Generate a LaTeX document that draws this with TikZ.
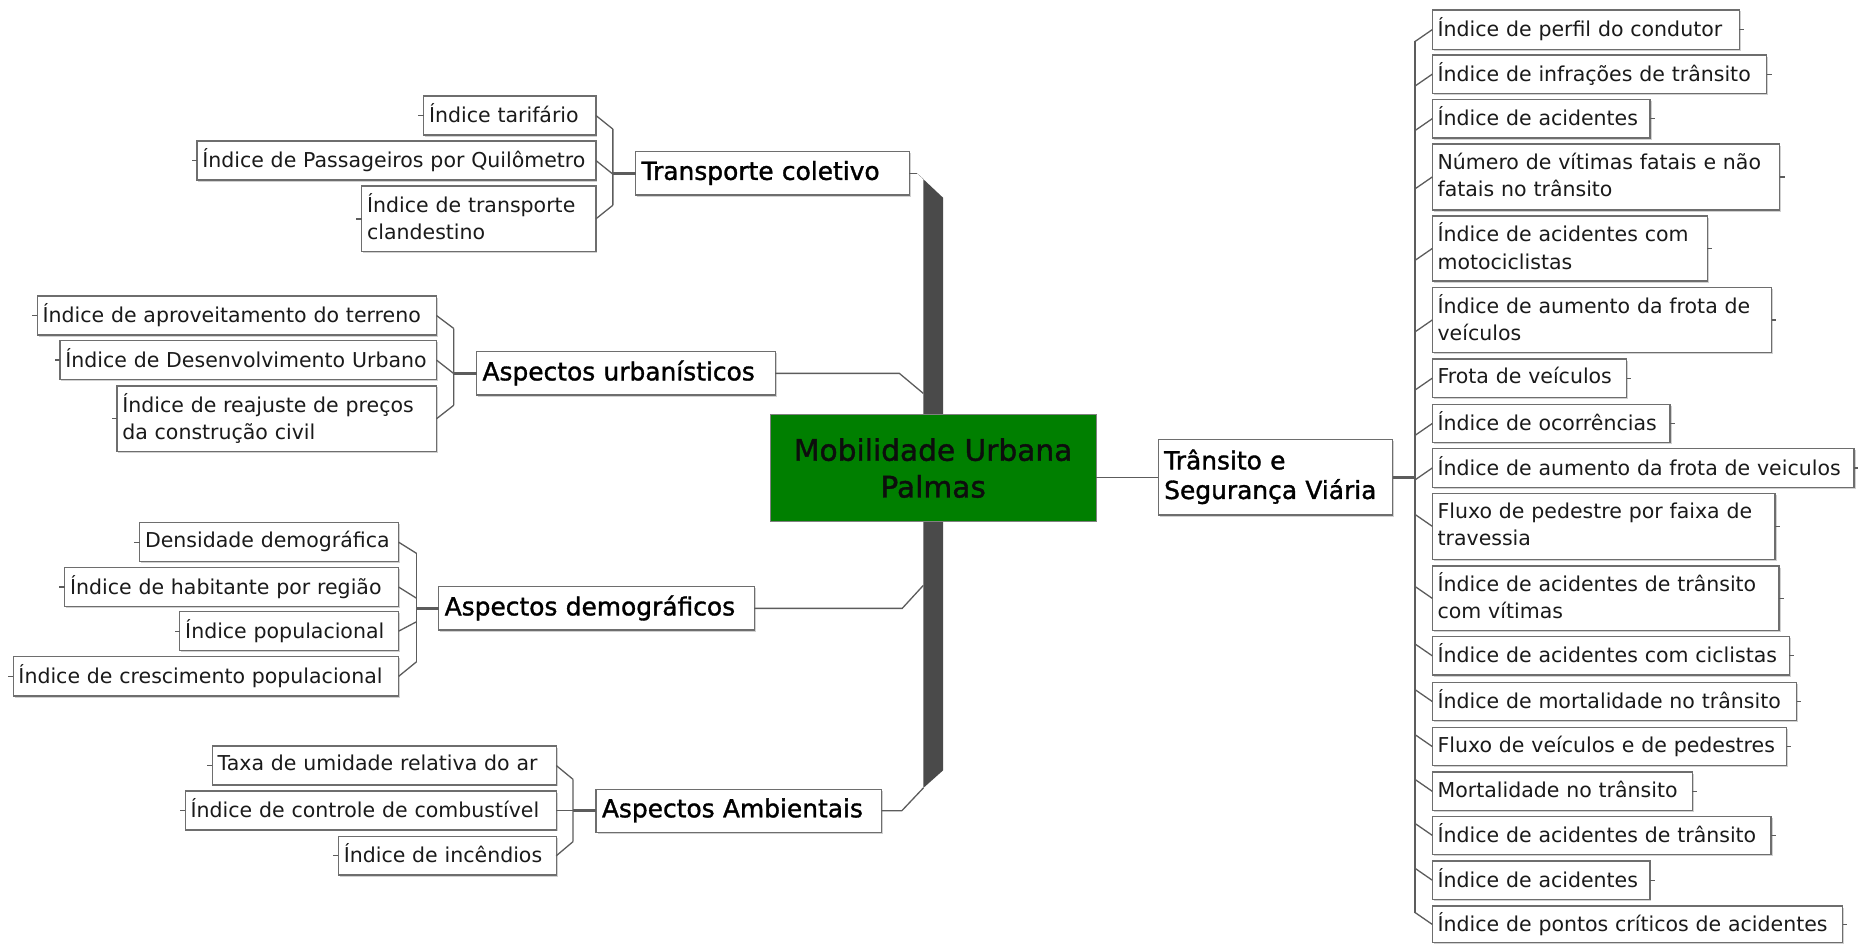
\documentclass[tikz,border=0pt]{standalone}
\usepackage{fontspec}
\setmainfont{DejaVu Sans}
\newfontfamily\parentfont{DejaVu Sans}[FakeBold=1.3]
\usetikzlibrary{shadows}
\definecolor{boxline}{HTML}{6E6E6E}
\definecolor{conncol}{HTML}{5C5C5C}
\definecolor{barcol}{HTML}{4A4A4A}
\definecolor{centergreen}{HTML}{007F00}
\definecolor{leaftext}{HTML}{1A1A1A}
\newcommand\lstrut{\rule[-4.2pt]{0pt}{16.2pt}}
\newcommand\pstrut{\rule[-5pt]{0pt}{19.5pt}}
\tikzset{
  box/.style={draw=boxline, line width=1pt, fill=white, outer sep=0pt, anchor=north west,
    align=left, inner ysep=0pt,
    drop shadow={shadow xshift=1.3pt, shadow yshift=-1.3pt, fill=black, opacity=0.18}},
  leaf/.style 2 args={box, inner xsep=4.5pt, text width=#1pt, minimum height=#2pt,
    font=\fontsize{17.3}{22.8}\selectfont, text=leaftext,
    execute at begin node=\lstrut, execute at end node=\lstrut},
  parent/.style 2 args={box, inner xsep=5pt, text width=#1pt, minimum height=#2pt,
    font=\parentfont\fontsize{21}{25}\selectfont, text=black,
    execute at begin node=\pstrut, execute at end node=\pstrut},
  mainbox/.style={draw=gray, line width=1pt, fill=centergreen, outer sep=0pt, anchor=north west,
    minimum width=275pt, minimum height=90pt, align=center,
    font=\parentfont\fontsize{25}{31}\selectfont, text=black!95},
  conn/.style={draw=conncol, line width=1.1pt},
  thickconn/.style={draw=conncol, line width=2.4pt},
}
\begin{document}
\begin{tikzpicture}[x=1pt,y=-1pt]
\useasboundingbox (0,0) rectangle (1568,796);

% ---- central spine (drawn first, behind the main box)
\coordinate (bartop) at (774,146.3);
\coordinate (bu) at (779.2,332);
\coordinate (bd) at (779.2,494);
\coordinate (bb) at (779.2,665);
\fill[barcol] (bartop) -- (796,167) -- (796,650) -- (bb) -- (779.2,151) -- cycle;

% ---- main node
\node[mainbox] (mob) at (650,350) {Mobilidade Urbana\\Palmas};

% ---- parents
\node[parent={221.1}{36.6}] (tc) at (536.4,128) {\mbox{Transporte coletivo}};
\node[parent={242}{36.6}] (ua) at (402.2,296.8) {\mbox{Aspectos urbanísticos}};
\node[parent={256.2}{36.6}] (da) at (370.3,495.1) {\mbox{Aspectos demográficos}};
\node[parent={231.1}{36.3}] (aa) at (503,666.1) {\mbox{Aspectos Ambientais}};
\node[parent={187.8}{63.8}] (tsv) at (977.5,370.8) {\mbox{Trânsito e}\\\mbox{Segurança Viária}};

% ---- group 1 leaves
\node[leaf={136.3}{32.9}] (t1) at (357.6,81) {\mbox{Índice tarifário}};
\node[leaf={327.7}{32.9}] (t2) at (166.2,119) {\mbox{Índice de Passageiros por Quilômetro}};
\node[leaf={188.6}{55.4}] (t3) at (305.3,157) {\mbox{Índice de transporte}\\\mbox{clandestino}};

% ---- group 2 leaves
\node[leaf={327.9}{32.9}] (u1) at (31.4,249.8) {\mbox{Índice de aproveitamento do terreno}};
\node[leaf={308.7}{32.6}] (u2) at (50.6,287.5) {\mbox{Índice de Desenvolvimento Urbano}};
\node[leaf={260.6}{55.5}] (u3) at (98.7,325.7) {\mbox{Índice de reajuste de preços}\\\mbox{da construção civil}};

% ---- group 3 leaves
\node[leaf={209.5}{32.9}] (d1) at (117.9,441.1) {\mbox{Densidade demográfica}};
\node[leaf={272.8}{33.2}] (d2) at (54.6,478.8) {\mbox{Índice de habitante por região}};
\node[leaf={175.6}{32.9}] (d3) at (151.8,516.2) {\mbox{Índice populacional}};
\node[leaf={316.3}{33.2}] (d4) at (11.1,554.2) {\mbox{Índice de crescimento populacional}};

% ---- group 4 leaves
\node[leaf={281.2}{32.8}] (a1) at (179.2,629.6) {\mbox{Taxa de umidade relativa do ar}};
\node[leaf={304}{32.9}] (a2) at (156.4,667.5) {\mbox{Índice de controle de combustível}};
\node[leaf={174.8}{32.3}] (a3) at (285.6,706.1) {\mbox{Índice de incêndios}};

% ---- right leaves
\node[leaf={250.1}{33.2}] (r1) at (1208.7,8.4) {\mbox{Índice de perfil do condutor}};
\node[leaf={273.3}{32.4}] (r2) at (1208.7,46.4) {\mbox{Índice de infrações de trânsito}};
\node[leaf={174.8}{32.7}] (r3) at (1208.7,83.8) {\mbox{Índice de acidentes}};
\node[leaf={284.3}{55.7}] (r4) at (1208.7,121.5) {\mbox{Número de vítimas fatais e não}\\\mbox{fatais no trânsito}};
\node[leaf={223.1}{54.8}] (r5) at (1208.7,182.3) {\mbox{Índice de acidentes com}\\\mbox{motociclistas}};
\node[leaf={277.4}{55.1}] (r6) at (1208.7,242.5) {\mbox{Índice de aumento da frota de}\\\mbox{veículos}};
\node[leaf={155.1}{32.3}] (r7) at (1208.7,303) {\mbox{Frota de veículos}};
\node[leaf={191.6}{32.4}] (r8) at (1208.7,341.2) {\mbox{Índice de ocorrências}};
\node[leaf={346.9}{32.7}] (r9) at (1208.7,378.6) {\mbox{Índice de aumento da frota de veiculos}};
\node[leaf={280.3}{55.7}] (r10) at (1208.7,416.3) {\mbox{Fluxo de pedestre por faixa de}\\\mbox{travessia}};
\node[leaf={283.6}{54.5}] (r11) at (1208.7,477.7) {\mbox{Índice de acidentes de trânsito}\\\mbox{com vítimas}};
\node[leaf={292.3}{32.3}] (r12) at (1208.7,537.3) {\mbox{Índice de acidentes com ciclistas}};
\node[leaf={298.5}{32.4}] (r13) at (1208.7,575.8) {\mbox{Índice de mortalidade no trânsito}};
\node[leaf={290.1}{32.4}] (r14) at (1208.7,613.8) {\mbox{Fluxo de veículos e de pedestres}};
\node[leaf={210.4}{32.6}] (r15) at (1208.7,651.5) {\mbox{Mortalidade no trânsito}};
\node[leaf={276.9}{32.1}] (r16) at (1208.7,688.9) {\mbox{Índice de acidentes de trânsito}};
\node[leaf={174.7}{32.4}] (r17) at (1208.7,726.6) {\mbox{Índice de acidentes}};
\node[leaf={337.3}{31}] (r18) at (1208.7,764.6) {\mbox{Índice de pontos críticos de acidentes}};

% ---- parents to spine / main
\draw[conn] (tc.east) -- (bartop);
\draw[conn] (ua.east) -- ++(104.8,0) -- (bu);
\draw[conn] (da.east) -- ++(124.9,0) -- (bd);
\draw[conn] (aa.east) -- ++(16.9,0) -- (bb);
\draw[conn] (mob.east |- tsv.west) -- (tsv.west);

% ---- group 1 bracket
\draw[conn] (t1.east) -- ++(14.3,11.5) coordinate (g1t);
\draw[conn] (t2.east) -- ++(14.3,11.5);
\draw[conn] (t3.east) -- ++(14.3,-11.5) coordinate (g1b);
\draw[conn] (g1t) -- (g1b);
\draw[thickconn] (g1t |- tc.west) -- (tc.west);

% ---- group 2 bracket
\draw[conn] (u1.east) -- ++(14.7,11) coordinate (g2t);
\draw[conn] (u2.east) -- ++(14.7,11.5);
\draw[conn] (u3.east) -- ++(14.7,-11.5) coordinate (g2b);
\draw[conn] (g2t) -- (g2b);
\draw[thickconn] (g2t |- ua.west) -- (ua.west);

% ---- group 3 bracket
\draw[conn] (d1.east) -- ++(15.2,9.5) coordinate (g3t);
\draw[conn] (d2.east) -- ++(15.2,9.5);
\draw[conn] (d3.east) -- ++(15.2,-8);
\draw[conn] (d4.east) -- ++(15.2,-12.4) coordinate (g3b);
\draw[conn] (g3t) -- (g3b);
\draw[thickconn] (g3t |- da.west) -- (da.west);

% ---- group 4 bracket
\draw[conn] (a1.east) -- ++(14.2,11.7) coordinate (g4t);
\draw[conn] (a2.east) -- ++(14.2,0);
\draw[conn] (a3.east) -- ++(14.2,-12) coordinate (g4b);
\draw[conn] (g4t) -- (g4b);
\draw[thickconn] (g4t |- aa.west) -- (aa.west);

% ---- left leaf stubs
\foreach \n in {t1,t2,t3,u1,u2,u3,d1,d2,d3,d4,a1,a2,a3}
  \draw[conn] (\n.west) -- ++(-4.5,0);

% ---- right bracket
\draw[conn] (r1.west) -- ++(-14.5,10) coordinate (rtop);
\foreach \n in {r2,r3,r4,r5,r6,r7,r8,r9}
  \draw[conn] (\n.west) -- ++(-14.5,10);
\foreach \n in {r10,r11,r12,r13,r14,r15,r16,r17}
  \draw[conn] (\n.west) -- ++(-14.5,-10);
\draw[conn] (r18.west) -- ++(-14.5,-10) coordinate (rbot);
\draw[conn] (rtop) -- (rbot);
\draw[thickconn] (tsv.east) -- (rtop |- tsv.east);

% ---- right leaf stubs
\foreach \n in {r1,r2,r3,r4,r5,r6,r7,r8,r9,r10,r11,r12,r13,r14,r15,r16,r17,r18}
  \draw[conn] (\n.east) -- ++(4,0);
\end{tikzpicture}
\end{document}
